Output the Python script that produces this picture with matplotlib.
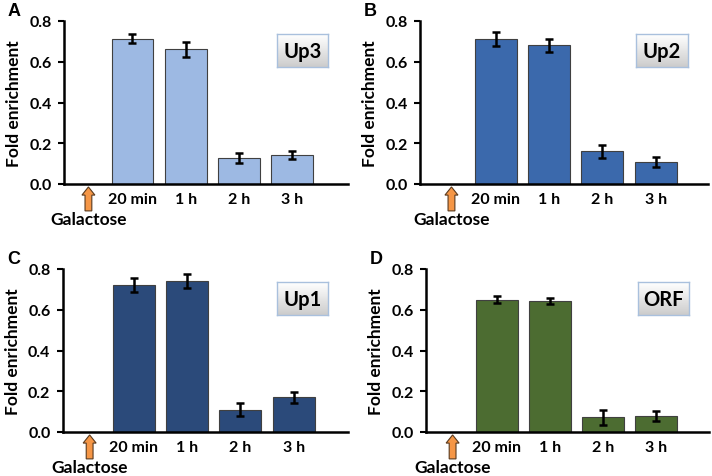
import numpy as np
import matplotlib
matplotlib.use("Agg")
import matplotlib.pyplot as plt
from matplotlib.patches import Polygon

plt.rcParams['font.family'] = ['Lato', 'DejaVu Sans']

# Data
time_labels = ["20 min", "1 h", "2 h", "3 h"]
up3_vals = [0.713, 0.661, 0.127, 0.142]
up3_err = [0.021, 0.038, 0.026, 0.020]
up2_vals = [0.713, 0.682, 0.160, 0.108]
up2_err = [0.034, 0.032, 0.033, 0.026]
up1_vals = [0.723, 0.743, 0.109, 0.170]
up1_err = [0.034, 0.034, 0.032, 0.026]
orf_vals = [0.650, 0.643, 0.073, 0.078]
orf_err = [0.017, 0.017, 0.037, 0.025]

panels = [
    # letter, region, values, errors, color, axes rect (px: left, top, right, bottom), xlim
    ("A", "Up3", up3_vals, up3_err, "#9DB9E3", (64, 22, 348, 185), (-0.29, 5.06)),
    ("B", "Up2", up2_vals, up2_err, "#3B69AC", (420, 22, 708, 185), (-0.42, 4.98)),
    ("C", "Up1", up1_vals, up1_err, "#2B4A7A", (63, 270, 348, 433), (-0.33, 5.02)),
    ("D", "ORF", orf_vals, orf_err, "#4C6C31", (426, 270, 709, 433), (-0.33, 4.99)),
]

W, H = 712, 477
fig = plt.figure(figsize=(W / 100, H / 100), dpi=100)

for letter, region, vals, errs, color, (l, t, r, b), xlim in panels:
    ax = fig.add_axes([l / W, 1 - b / H, (r - l) / W, (b - t) / H])
    x = np.arange(1, len(vals) + 1)
    ax.bar(x, vals, width=0.79, color=color, edgecolor="#404040", linewidth=0.8, zorder=2)
    ax.errorbar(x, vals, yerr=errs, fmt="none", ecolor="black", elinewidth=1.8,
                capsize=3, capthick=1.8, zorder=3)
    ax.set_xlim(*xlim)
    ax.set_ylim(0, 0.8)
    ax.set_yticks([0, 0.2, 0.4, 0.6, 0.8])
    ax.set_yticklabels(["0.0", "0.2", "0.4", "0.6", "0.8"], fontweight="bold", fontsize=11.5)
    ax.set_xticks(x)
    ax.set_xticklabels(time_labels, fontweight="bold", fontsize=11.5)
    ax.tick_params(axis="x", length=0, pad=6)
    ax.tick_params(axis="y", length=4, width=1.5, direction="out", pad=5)
    for s in ["top", "right"]:
        ax.spines[s].set_visible(False)
    for s in ["left", "bottom"]:
        ax.spines[s].set_linewidth(1.8)
    ax.set_ylabel("Fold enrichment", fontweight="bold", fontsize=12.5, labelpad=5)

    # Galactose arrow (x in data units, y in axes fraction)
    ax_x = 0.17
    sw, hw = 0.064, 0.122
    y_tip, y_head, y_tail = -0.018, -0.068, -0.165
    arrow = Polygon([(ax_x, y_tip), (ax_x + hw, y_head), (ax_x + sw, y_head),
                     (ax_x + sw, y_tail), (ax_x - sw, y_tail), (ax_x - sw, y_head),
                     (ax_x - hw, y_head)], closed=True,
                    transform=ax.get_xaxis_transform(), clip_on=False,
                    facecolor="#F59646", edgecolor="#5a3a1e", linewidth=0.8)
    ax.add_patch(arrow)
    ax.text(ax_x, -0.245, "Galactose", transform=ax.get_xaxis_transform(),
            ha="center", va="baseline", fontweight="bold", fontsize=12.5)

    # Region label box with gradient
    bx = ax.inset_axes([0.75, 0.72, 0.18, 0.2])
    grad = np.linspace(1.0, 0.80, 50).reshape(-1, 1)
    bx.imshow(grad, cmap="gray", vmin=0, vmax=1, aspect="auto", extent=(0, 1, 0, 1))
    bx.set_xticks([])
    bx.set_yticks([])
    for s in bx.spines.values():
        s.set_edgecolor("#A9C0DD")
        s.set_linewidth(1.0)
    bx.text(0.5, 0.48, region, ha="center", va="center", fontweight="bold", fontsize=14.5,
            transform=bx.transAxes)

    fig.text((l - 56) / W, 1 - (t - 10) / H, letter, ha="left", va="center",
             fontweight="bold", fontsize=13, family="Liberation Sans")

fig.savefig("out.png", dpi=100)
